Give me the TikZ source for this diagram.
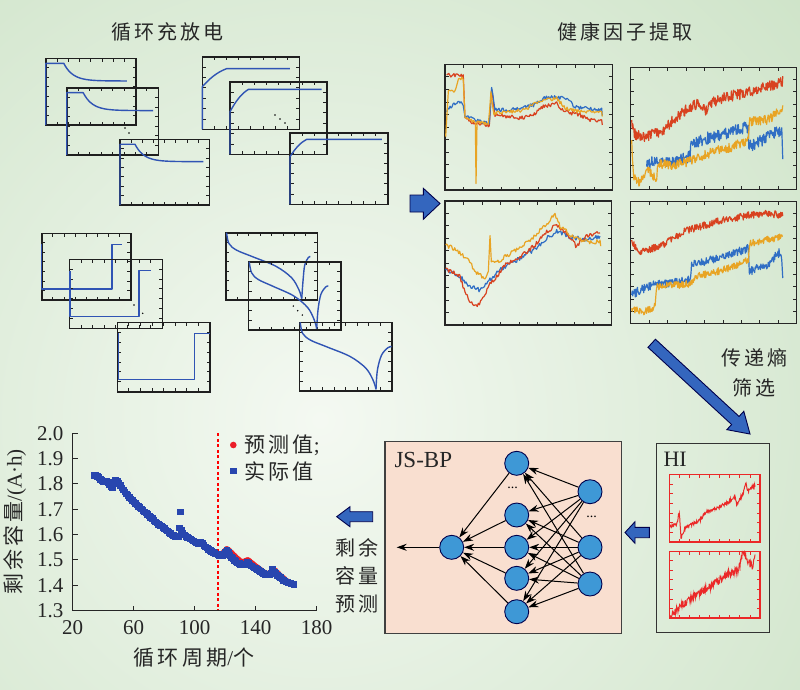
\documentclass[tikz,border=0pt]{standalone}
\usepackage{fontspec}
\setmainfont{Liberation Serif}
\newfontfamily\cjksp[LetterSpace=15]{Noto Sans CJK SC}
\usetikzlibrary{arrows.meta,plotmarks}
\definecolor{bggreen}{RGB}{186,216,178}
\definecolor{bglight}{RGB}{244,249,242}
\definecolor{cblue}{RGB}{48,84,180}
\definecolor{fred}{RGB}{216,66,32}
\definecolor{forange}{RGB}{232,164,36}
\definecolor{fblue}{RGB}{48,110,196}
\definecolor{arrowblue}{RGB}{52,102,190}
\definecolor{peach}{RGB}{249,223,208}
\definecolor{neublue}{RGB}{62,152,214}
\definecolor{hired}{RGB}{235,40,40}
\definecolor{dotred}{RGB}{235,30,40}
\definecolor{sqblue}{RGB}{40,70,175}
\tikzset{
 cv/.style={draw=cblue, line width=1.4pt, line join=round},
 fl/.style={line width=1.2pt, line join=round},
 frame/.style={draw=black!88, line width=1.6pt},
 ffr/.style={draw=black!85, line width=1.5pt},
 hifr/.style={draw=hired, line width=1.2pt},
 barrow/.style={fill=arrowblue, draw=black!70!blue, line width=0.9pt, line join=miter},
 neu/.style={circle, minimum size=24pt, inner sep=0pt, fill=neublue, draw=black!70!blue, line width=0.9pt},
 nnarr/.style={-{Stealth[length=10pt,width=7pt]}, line width=1pt, draw=black},
 cjkt/.style={font=\cjksp\fontsize{20}{24}\selectfont, text=black!85},
 lat/.style={font=\fontsize{21}{21}\selectfont, text=black!85},
}
\def\nd{150}
% frame with inward ticks: x1 y1 x2 y2 nx ny style
\newcommand\plotframe[7]{%
  \draw[#7] (#1,#2) rectangle (#3,#4);
  \foreach \i in {1,...,#5}{\pgfmathsetmacro\tx{#1+(#3-#1)*\i/(#5+1)}
     \draw[#7,line width=0.8pt] (\tx,#2) -- ++(0,3.5) (\tx,#4) -- ++(0,-3.5);}
  \foreach \i in {1,...,#6}{\pgfmathsetmacro\ty{#2+(#4-#2)*\i/(#6+1)}
     \draw[#7,line width=0.8pt] (#1,\ty) -- ++(3.5,0) (#3,\ty) -- ++(-3.5,0);}
}
% normalized content inside a box
\newcommand\inbox[5]{\pgfmathsetmacro\bw{#3-#1}\pgfmathsetmacro\bh{#4-#2}%
  \begin{scope}[shift={(#1,#4)},x=\bw pt,y=\bh pt]#5\end{scope}}
% noisy polyline: style, amplitude, u0, v0, list u/v
\newcommand\noisy[5]{\draw[#1] (#3,#4) \foreach \u/\v [remember=\u as \pu (initially #3), remember=\v as \pv (initially #4), evaluate=\u as \ns using {int(max(1,abs(\u-\pu)*\nd))}] in {#5} {
   \foreach \k in {1,...,\ns} { -- ({\pu+(\u-\pu)*\k/\ns},{\pv+(\v-\pv)*\k/\ns+#2*rand}) }
 };}
\newcommand\dcurve[3]{\draw[cv] (0,0) -- (0,#1) -- (#2,#1) -- plot[domain=#2:#3,samples=40] (\x,{0.66+(#1-0.66)*exp(-(\x-#2)/0.1)});}
\newcommand\ccurve[4]{\draw[cv] (0,0) -- (0,#1) .. controls ({#2*0.3},{#1+(#3-#1)*0.45}) and ({#2*0.6},{#1+(#3-#1)*0.8}) .. (#2,#3) -- (#4,#3);}
\newcommand\scurve[5]{\draw[cv] (#1,#2) -- (#1,#3) -- (#4,#3) -- (#4,#2) -- (#5,#2);}
\newcommand\vcurve[2]{%
 \draw[cv] plot[smooth,tension=0.55] coordinates {(0.01,1) (0.035,0.84) ({0.12*#1/0.83},0.74) ({0.3*#1/0.83},0.64) ({0.55*#1/0.83},0.5) ({0.72*#1/0.83},0.33) ({0.8*#1/0.83},0.15) (#1,0.02)};
 \draw[cv] plot[smooth,tension=0.55] coordinates {(#1,0.02) ({#1+0.015},0.3) ({#1+0.06*#2},0.52) ({#1+0.13*#2},0.63) ({#1+0.17*#2},0.645)};}
\begin{document}
\begin{tikzpicture}[x=1pt,y=-1pt]
\pgfmathsetseed{12}
\path[use as bounding box] (0,0) rectangle (800,689);
% background
\fill[bggreen] (0,0) rectangle (800,689);
\begin{scope}
\clip (0,0) rectangle (800,689);
\shade[inner color=bglight, outer color=bggreen] (320,420) circle (1000);
\end{scope}

% titles
\node[cjkt] (t1) at (167,31.7) {循环充放电};
\node[cjkt] (t2) at (625,31.7) {健康因子提取};

% ---- cycling curves group A (discharge) ----
\plotframe{45.7}{58.3}{136}{125}{7}{6}{frame}
\inbox{45.7}{58.3}{136}{125}{\dcurve{0.925}{0.2}{0.9}}
\plotframe{66.7}{87.7}{158.3}{155}{7}{6}{frame}
\inbox{66.7}{87.7}{158.3}{155}{\dcurve{0.926}{0.18}{0.945}}
\plotframe{120}{139.3}{209.3}{205}{7}{6}{frame}
\inbox{120}{139.3}{209.3}{205}{\dcurve{0.924}{0.168}{0.933}}
\fill (125,128) circle (0.8) (129,133) circle (0.8);

% group B (charge)
\plotframe{202.3}{56.7}{299.3}{129.3}{7}{6}{frame}
\inbox{202.3}{56.7}{299.3}{129.3}{\ccurve{0.587}{0.25}{0.835}{0.904}}
\plotframe{230}{81.7}{326.7}{154.3}{7}{6}{frame}
\inbox{230}{81.7}{326.7}{154.3}{\ccurve{0.587}{0.19}{0.894}{0.948}}
\plotframe{290}{132.7}{387.7}{204.3}{7}{6}{frame}
\inbox{290}{132.7}{387.7}{204.3}{\ccurve{0.665}{0.17}{0.907}{0.94}}
\fill (275,115) circle (0.8) (280,119) circle (0.8) (285,123) circle (0.8);

% group D (square)
\plotframe{41.7}{233.3}{130.7}{300}{7}{6}{frame}
\inbox{41.7}{233.3}{130.7}{300}{\scurve{0}{0.835}{0.165}{0.79}{0.9}}
\plotframe{69.3}{259.3}{162.3}{328.3}{7}{6}{frame}
\inbox{69.3}{259.3}{162.3}{328.3}{\scurve{0.007}{0.836}{0.17}{0.75}{0.875}}
\plotframe{117.3}{322.3}{210}{391.7}{7}{6}{frame}
\inbox{117.3}{322.3}{210}{391.7}{\scurve{0.01}{0.84}{0.178}{0.83}{0.995}}
\fill (134,305) circle (0.8) (142.7,313.3) circle (0.8);

% group E (V curves)
\plotframe{225.7}{232.7}{317.3}{300}{7}{6}{frame}
\inbox{225.7}{232.7}{317.3}{300}{\vcurve{0.83}{0.55}}
\plotframe{248.3}{261.7}{340.7}{330}{7}{6}{frame}
\inbox{248.3}{261.7}{340.7}{330}{\vcurve{0.74}{0.75}}
\plotframe{299.3}{322.3}{391.7}{390.7}{7}{6}{frame}
\inbox{299.3}{322.3}{391.7}{390.7}{\vcurve{0.83}{1}}
\fill (293.3,306) circle (0.8) (297.7,310.7) circle (0.8) (302.3,315) circle (0.8);

% arrow to features
\draw[barrow] (410,195) -- (423.3,195) -- (423.3,188.3) -- (440,203.5) -- (423.3,219.3) -- (423.3,212) -- (410,212) -- cycle;

% ---- feature plots ----
\def\nd{170}
\plotframe{445}{64.3}{612.7}{190}{8}{9}{ffr}
\inbox{445}{64.3}{612.7}{190}{%
 \noisy{fl,fred}{0.015}{0.01}{0.915}{0.109/0.907, 0.119/0.584, 0.149/0.544, 0.209/0.53, 0.239/0.517, 0.264/0.517, 0.278/0.796, 0.298/0.597, 0.388/0.584, 0.447/0.57, 0.527/0.597, 0.586/0.663, 0.666/0.69, 0.706/0.623, 0.805/0.597, 0.865/0.557, 0.934/0.557, 0.938/0.517}
 \noisy{fl,fblue}{0.015}{0.01}{0.623}{0.03/0.663, 0.089/0.703, 0.109/0.663, 0.119/0.597, 0.189/0.557, 0.264/0.53, 0.278/0.809, 0.298/0.637, 0.388/0.637, 0.527/0.676, 0.586/0.729, 0.666/0.743, 0.746/0.716, 0.765/0.663, 0.845/0.65, 0.934/0.637, 0.938/0.597}
 \noisy{fl,forange}{0.015}{0.004}{0.424}{0.02/0.782, 0.06/0.782, 0.08/0.889, 0.109/0.889, 0.119/0.584, 0.169/0.544, 0.181/0.544, 0.185/0.066, 0.191/0.544, 0.258/0.53, 0.274/0.769, 0.292/0.61, 0.388/0.623, 0.467/0.637, 0.586/0.716, 0.666/0.729, 0.716/0.65, 0.805/0.623, 0.934/0.623, 0.938/0.584}
}
\plotframe{445}{201}{611.7}{325}{8}{9}{ffr}
\inbox{445}{201}{611.7}{325}{%
 \noisy{fl,fblue}{0.018}{0.004}{0.444}{0.09/0.39, 0.15/0.309, 0.21/0.282, 0.25/0.336, 0.27/0.363, 0.33/0.444, 0.43/0.524, 0.53/0.605, 0.61/0.699, 0.67/0.753, 0.75/0.712, 0.85/0.685, 0.93/0.712}
 \noisy{fl,fred}{0.018}{0.004}{0.457}{0.09/0.39, 0.12/0.255, 0.16/0.175, 0.2/0.161, 0.24/0.242, 0.27/0.336, 0.31/0.39, 0.37/0.497, 0.45/0.551, 0.53/0.632, 0.61/0.753, 0.67/0.806, 0.73/0.739, 0.79/0.632, 0.84/0.712, 0.93/0.753}
 \noisy{fl,forange}{0.018}{0.004}{0.645}{0.07/0.605, 0.13/0.538, 0.19/0.417, 0.24/0.376, 0.26/0.43, 0.27/0.726, 0.278/0.497, 0.33/0.524, 0.43/0.605, 0.51/0.685, 0.57/0.766, 0.63/0.847, 0.66/0.887, 0.69/0.793, 0.77/0.712, 0.85/0.672, 0.93/0.672, 0.934/0.645}
}
\def\nd{320}
\plotframe{630.7}{67.3}{796.7}{189.3}{8}{9}{ffr}
\inbox{630.7}{67.3}{796.7}{189.3}{%
 \noisy{fl,fred}{0.045}{0.006}{0.568}{0.016/0.459, 0.076/0.432, 0.157/0.459, 0.197/0.486, 0.277/0.596, 0.357/0.678, 0.428/0.705, 0.448/0.637, 0.478/0.705, 0.578/0.76, 0.699/0.787, 0.819/0.842, 0.916/0.883}
 \noisy{fl,fblue}{0.05}{0.096}{0.186}{0.137/0.24, 0.157/0.213, 0.217/0.213, 0.297/0.24, 0.357/0.268, 0.361/0.377, 0.458/0.418, 0.578/0.459, 0.709/0.514, 0.711/0.35, 0.779/0.391, 0.9/0.486, 0.91/0.459, 0.916/0.295}
 \noisy{fl,forange}{0.04}{0.006}{0.404}{0.016/0.104, 0.056/0.049, 0.096/0.158, 0.137/0.104, 0.157/0.049, 0.161/0.213, 0.277/0.2, 0.378/0.24, 0.518/0.322, 0.618/0.35, 0.709/0.404, 0.715/0.555, 0.819/0.568, 0.916/0.65}
}
\plotframe{630.7}{201.7}{796.7}{323.3}{8}{9}{ffr}
\inbox{630.7}{201.7}{796.7}{323.3}{%
 \noisy{fl,fred}{0.03}{0.006}{0.685}{0.046/0.589, 0.177/0.63, 0.317/0.753, 0.518/0.836, 0.719/0.89, 0.819/0.904, 0.916/0.89}
 \noisy{fl,fblue}{0.035}{0.006}{0.233}{0.056/0.274, 0.137/0.315, 0.217/0.329, 0.357/0.356, 0.367/0.479, 0.518/0.534, 0.709/0.616, 0.715/0.425, 0.819/0.479, 0.9/0.589, 0.91/0.521, 0.916/0.342}
 \noisy{fl,forange}{0.03}{0.006}{0.123}{0.076/0.096, 0.147/0.137, 0.157/0.301, 0.277/0.315, 0.378/0.329, 0.388/0.384, 0.518/0.425, 0.618/0.466, 0.709/0.521, 0.719/0.658, 0.819/0.685, 0.916/0.712}
}

% diagonal arrow and text
\begin{scope}[shift={(651.7,343.3)}, rotate=-42.7]
\draw[barrow] (0,-5.5) -- (113.8,-5.5) -- (113.8,-12.5) -- (133.8,0) -- (113.8,12.5) -- (113.8,5.5) -- (0,5.5) -- cycle;
\end{scope}
\node[font=\cjksp\fontsize{20}{30}\selectfont, text=black!85, align=center] (te) at (754,373) {传递熵\\筛选};

% ---- HI box ----
\draw[draw=black!80, line width=1.3pt] (656.7,443.3) rectangle (769.3,632.7);
\node[lat, anchor=west, font=\fontsize{22}{22}\selectfont] (hi) at (660,459.3) {HI};
\def\nd{220}
\plotframe{669.3}{474.3}{760}{542}{8}{6}{hifr}
\inbox{669.3}{474.3}{760}{542}{%
 \noisy{line width=1pt,hired}{0.025}{0.007}{0.227}{0.081/0.266, 0.11/0.433, 0.129/0.054, 0.173/0.202, 0.338/0.325, 0.412/0.448, 0.522/0.498, 0.632/0.571, 0.724/0.67, 0.743/0.547, 0.816/0.719, 0.846/0.882, 0.86/0.744, 0.945/0.842}}
\plotframe{669.3}{551.3}{760}{618}{8}{6}{hifr}
\inbox{669.3}{551.3}{760}{618}{%
 \noisy{line width=1pt,hired}{0.055}{0.007}{0.02}{0.118/0.17, 0.265/0.32, 0.449/0.47, 0.632/0.645, 0.761/0.72, 0.809/0.98, 0.871/0.845, 0.919/0.76, 0.945/0.945}}

% arrow HI -> JS-BP
\draw[barrow] (649.3,527.3) -- (635,527.3) -- (635,521.7) -- (625,532.5) -- (635,543.3) -- (635,537.7) -- (649.3,537.7) -- cycle;

% ---- JS-BP box ----
\draw[fill=peach, draw=black!75, line width=1.3pt] (385,441.7) rectangle (621.7,633.3);
\node[anchor=west, font=\fontsize{23}{23}\selectfont, text=black!85] (jsbp) at (391,460) {JS-BP};
\node[neu] (o) at (451.7,547.3) {};
\node[neu] (h1) at (516.7,463.3) {};
\node[neu] (h2) at (516.7,515) {};
\node[neu] (h3) at (516.7,547.3) {};
\node[neu] (h4) at (516.7,578.3) {};
\node[neu] (h5) at (516.7,611.7) {};
\node[neu] (i1) at (590,491.7) {};
\node[neu] (i2) at (590,547.3) {};
\node[neu] (i3) at (590,584) {};
\node[font=\fontsize{14}{14}\selectfont] (hd) at (512.7,488) {...};
\node[font=\fontsize{14}{14}\selectfont] (id) at (591.7,517) {...};
\foreach \a in {1,2,3}{\foreach \b in {1,...,5}{\draw[nnarr] (i\a) -- (h\b);}}
\foreach \b in {1,...,5}{\draw[nnarr] (h\b) -- (o);}
\coordinate (outp) at (396.7,547.3);
\draw[nnarr] (o) -- (outp);

% arrow JS-BP -> plot and text
\draw[barrow] (372.7,511.7) -- (350,511.7) -- (350,506.7) -- (336.7,516.7) -- (350,526.7) -- (350,521.7) -- (372.7,521.7) -- cycle;
\node[font=\cjksp\fontsize{20}{28}\selectfont, text=black!85, align=center] (tp) at (357,576) {剩余\\容量\\预测};

% ---- capacity plot ----
\draw[red, line width=1.8pt, dash pattern=on 3pt off 2.5pt] (217.6,433.3) -- (217.6,610.7);
\begin{scope}[shift={(42.2,940)},x=1.525pt,y=253.33pt]
\draw plot[only marks, mark=*, mark size=2.6pt, mark options={fill=dotred, draw=dotred}] coordinates {(118,1.526)(119,1.531)(120,1.538)(121,1.544)(122,1.541)(123,1.536)(124,1.53)(125,1.524)(126,1.518)(127,1.512)(128,1.506)(129,1.501)(130,1.496)(131,1.494)(132,1.493)(133,1.496)(134,1.499)(135,1.5)(136,1.496)(137,1.491)(138,1.486)(139,1.481)(140,1.476)(141,1.472)(142,1.468)(143,1.463)(144,1.458)(145,1.454)(146,1.45)(147,1.448)(148,1.446)(149,1.446)(150,1.448)(151,1.454)(152,1.461)(153,1.458)(154,1.452)(155,1.446)(156,1.44)(157,1.434)(158,1.43)(159,1.425)(160,1.42)};
\draw plot[only marks, mark=square*, mark size=2.8pt, mark options={fill=sqblue, draw=sqblue}] coordinates {(34,1.835)(35,1.835)(36,1.832)(37,1.826)(38,1.82)(39,1.815)(40,1.812)(41,1.81)(42,1.81)(43,1.806)(44,1.798)(45,1.79)(46,1.785)(47,1.808)(48,1.815)(49,1.812)(50,1.804)(51,1.795)(52,1.786)(53,1.778)(54,1.77)(55,1.762)(56,1.755)(57,1.748)(58,1.742)(59,1.736)(60,1.73)(61,1.725)(62,1.719)(63,1.713)(64,1.708)(65,1.702)(66,1.697)(67,1.691)(68,1.686)(69,1.68)(70,1.675)(71,1.669)(72,1.664)(73,1.658)(74,1.652)(75,1.647)(76,1.642)(77,1.638)(78,1.635)(79,1.63)(80,1.625)(81,1.62)(82,1.615)(83,1.61)(84,1.605)(85,1.6)(86,1.597)(87,1.594)(88,1.592)(89,1.594)(90.5,1.69)(90,1.628)(91,1.617)(92,1.607)(93,1.6)(94,1.595)(95,1.591)(96,1.588)(97,1.584)(98,1.58)(99,1.576)(100,1.572)(101,1.568)(102,1.565)(103,1.568)(104,1.571)(105,1.567)(106,1.558)(107,1.553)(108,1.548)(109,1.543)(110,1.538)(111,1.534)(112,1.53)(113,1.527)(114,1.525)(115,1.522)(116,1.52)(117,1.519)(118,1.518)(119,1.522)(120,1.53)(121,1.54)(122,1.53)(123,1.52)(124,1.512)(125,1.506)(126,1.5)(127,1.495)(128,1.49)(129,1.487)(130,1.484)(131,1.482)(132,1.481)(133,1.486)(134,1.492)(135,1.489)(136,1.482)(137,1.478)(138,1.474)(139,1.47)(140,1.467)(141,1.463)(142,1.459)(143,1.455)(144,1.451)(145,1.447)(146,1.444)(147,1.443)(148,1.443)(149,1.444)(150,1.449)(151,1.466)(152,1.453)(153,1.447)(154,1.441)(155,1.436)(156,1.431)(157,1.426)(158,1.421)(159,1.418)(160,1.415)(161,1.413)(162,1.41)(163,1.408)(164,1.406)(165,1.405)};
\end{scope}
% axes
\draw[line width=1.3pt, black!85] (72.7,433.3) -- (72.7,610.7) -- (316.7,610.7);
\foreach \v [evaluate=\v as \py using {433.3+(2.0-\v)*253.33}] in {2.0,1.9,1.8,1.7,1.6,1.5,1.4,1.3}{
  \draw[line width=1pt, black!85] (72.7,\py) -- (78,\py);
  \node[lat, anchor=east] at (67,\py) {\v};}
\foreach \xv [evaluate=\xv as \px using {72.7+(\xv-20)*1.525}] in {20,60,100,140,180}{
  \draw[line width=1pt, black!85] (\px,610.7) -- (\px,605.5);
  \node[lat] at (\px,628) {\xv};}
\node[lat, rotate=90] (yl) at (15,522) {{\cjksp 剩余容量}/(A·h)};
\node[lat] (xl) at (194,658) {{\cjksp 循环周期}/{\cjksp 个}};
% legend
\fill[dotred] (233.3,445) circle (3.3);
\node[lat, anchor=west] (l1) at (241,445) {{\cjksp 预测值};};
\fill[sqblue] (230,467.7) rectangle (236.6,474.3);
\node[lat, anchor=west] (l2) at (241,471) {{\cjksp 实际值}};
\end{tikzpicture}
\end{document}
